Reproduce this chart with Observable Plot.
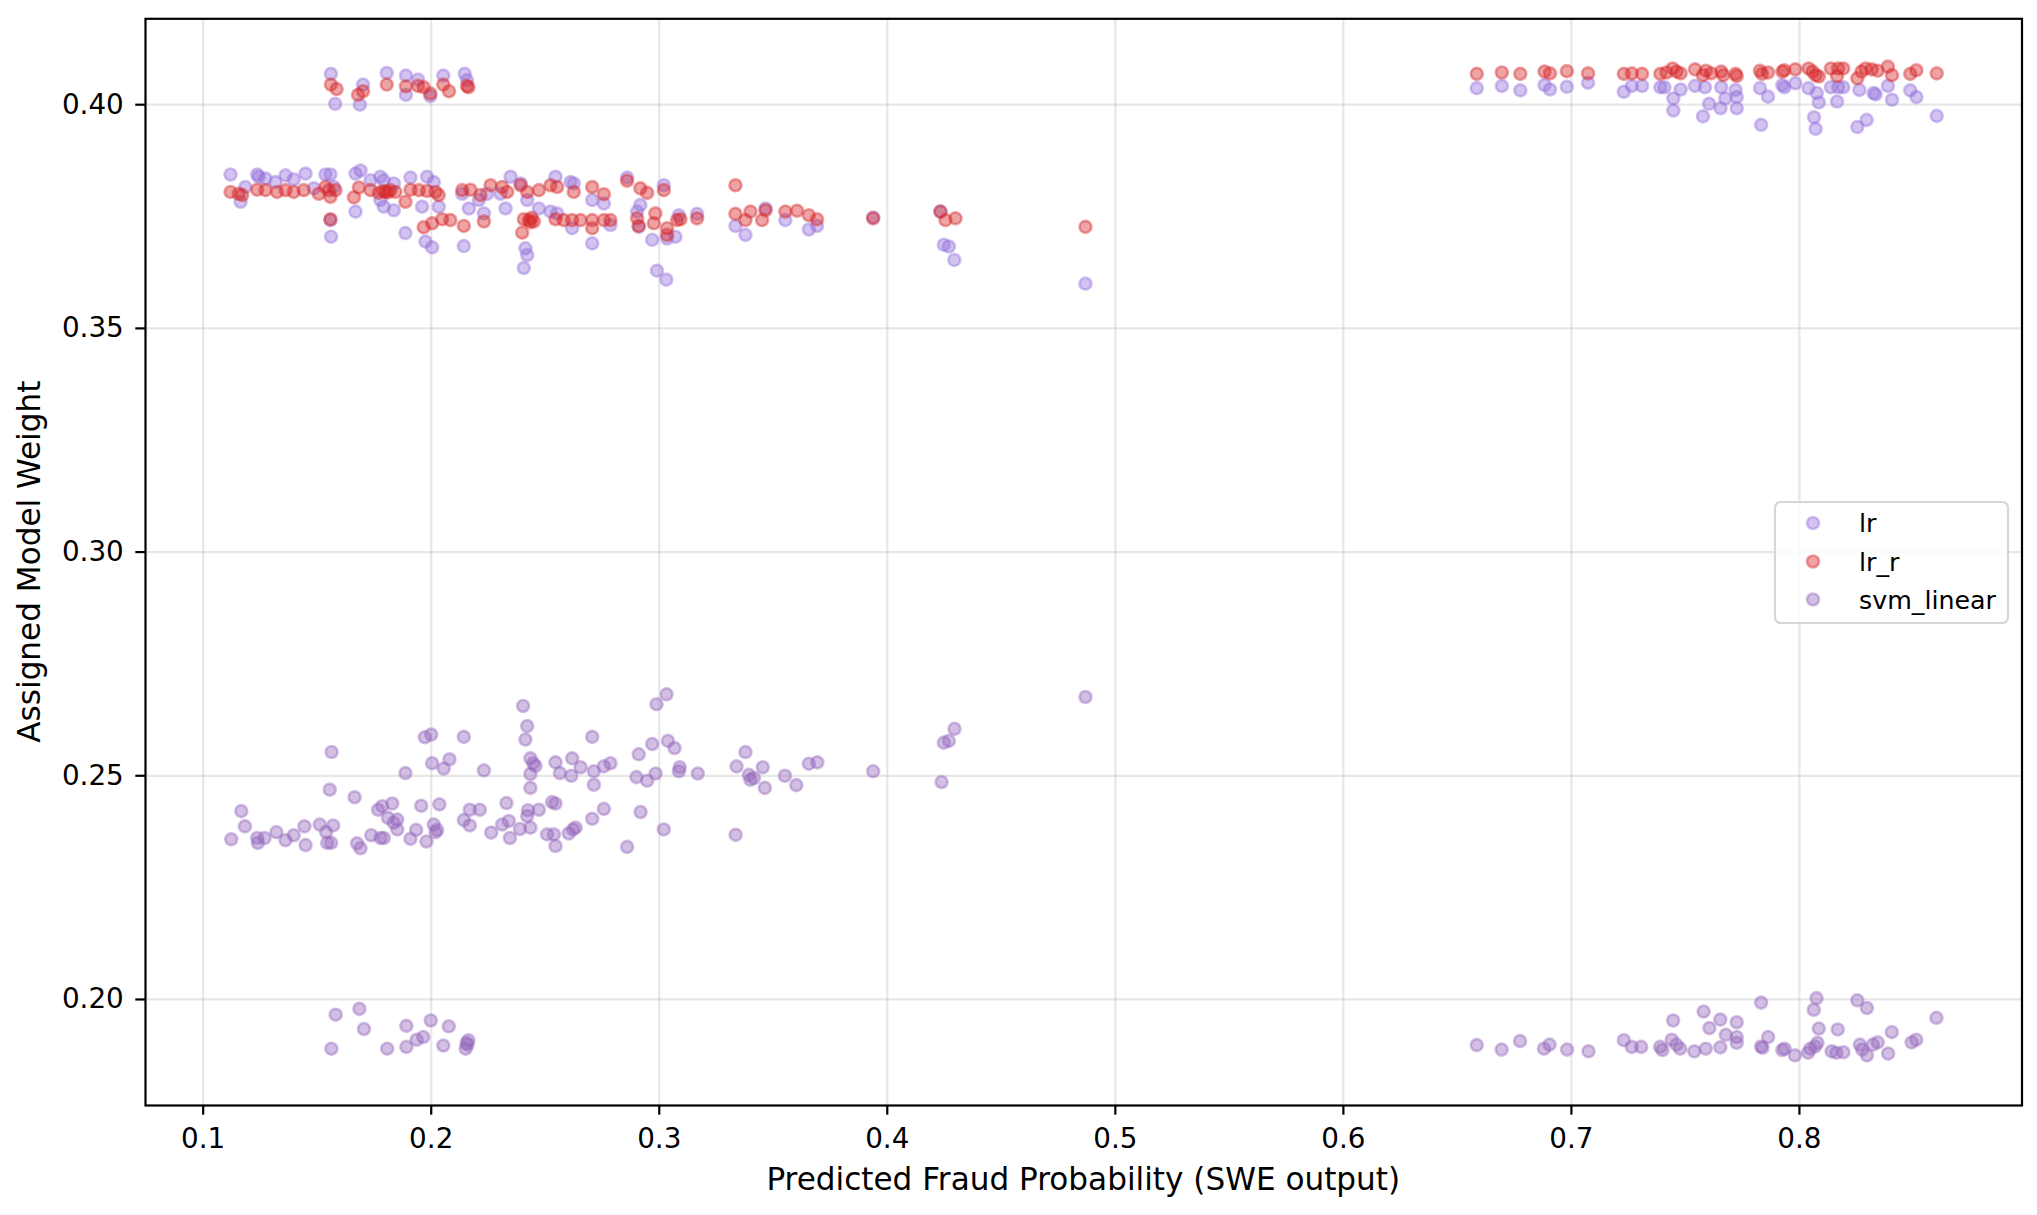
<!DOCTYPE html>
<html>
<head>
<meta charset="utf-8">
<script src="https://cdn.jsdelivr.net/npm/d3@7"></script>
<script src="https://cdn.jsdelivr.net/npm/@observablehq/plot@0.6"></script>
<style>
  html, body { margin: 0; padding: 0; background: white; overflow: hidden; }
  #chart { width: 2037px; height: 1215px; }
</style>
</head>
<body>
<div id="chart"></div>
<script>
// ---------- data ----------
const seriesNames = ["lr", "lr_r", "svm_linear"];
const seriesColors = ["#9370db", "#d62728", "#9467bd"];
const xTicks = [0.1, 0.2, 0.3, 0.4, 0.5, 0.6, 0.7, 0.8];
const yTicks = [0.20, 0.25, 0.30, 0.35, 0.40];
const xLabel = "Predicted Fraud Probability (SWE output)";
const yLabel = "Assigned Model Weight";

const lrPoints = [
  [.1120,.3844],[.1164,.3783],[.1185,.3816],[.1237,.3844],[.1244,.3839],[.1273,.3835],[.1317,.3827],[.1361,.3842],
  [.1397,.3833],[.1449,.3846],[.1485,.3813],[.1536,.3844],[.1558,.3844],[.1573,.3816],[.1558,.3742],[.1561,.3705],
  [.1668,.3846],[.1690,.3853],[.1668,.3761],[.1734,.3831],[.1777,.3839],[.1792,.3831],[.1777,.3787],[.1792,.3772],
  [.1836,.3764],[.1836,.3824],[.1909,.3837],[.1982,.3839],[.2011,.3827],[.1960,.3772],[.1887,.3713],[.1975,.3694],
  [.2004,.3681],[.2033,.3772],[.2136,.3801],[.2165,.3768],[.2143,.3684],[.2209,.3787],[.2231,.3757],[.2245,.3801],
  [.2304,.3801],[.2326,.3768],[.2348,.3839],[.2392,.3824],[.2421,.3787],[.2413,.3679],[.2421,.3664],[.2406,.3635],
  [.2472,.3768],[.2523,.3761],[.2545,.3839],[.2552,.3757],[.2611,.3827],[.2625,.3824],[.2618,.3724],[.2706,.3787],
  [.2706,.3690],
  [.2859,.3837],[.2757,.3779],[.2786,.3731],[.2917,.3776],[.2903,.3761],[.2910,.3727],[.2969,.3698],[.2990,.3629],
  [.3031,.3609],[.3020,.3820],[.3034,.3701],[.3071,.3705],[.3086,.3753],[.3166,.3756],[.3334,.3729],[.3378,.3709],
  [.3466,.3768],[.3553,.3742],[.3656,.3721],[.3692,.3729],[.3938,.3748],[.4233,.3761],[.4248,.3687],[.4270,.3683],
  [.4294,.3653],[.4869,.3600],
  [.1560,.4069],[.1579,.4002],[.1687,.4000],[.1701,.4045],[.1805,.4071],[.1889,.4065],[.1889,.4022],[.1942,.4056],
  [.1996,.4019],[.2053,.4065],[.2147,.4069],[.2157,.4055],
  [.6585,.4037],[.6695,.4042],[.6776,.4032],[.6882,.4044],[.6906,.4034],[.6980,.4040],[.7073,.4049],[.7230,.4029],
  [.7265,.4042],[.7310,.4042],[.7390,.4039],[.7408,.4039],[.7447,.4014],[.7447,.3987],[.7479,.4034],[.7542,.4042],
  [.7577,.3974],[.7586,.4039],[.7604,.4002],[.7657,.4039],[.7654,.3992],[.7675,.4014],[.7720,.4033],[.7725,.4017],
  [.7725,.3992],[.7827,.4037],[.7832,.3955],[.7862,.4018],[.7925,.4044],[.7934,.4039],[.7982,.4048],[.8040,.4037],
  [.8064,.3972],[.8071,.3946],[.8076,.4026],[.8085,.4005],[.8138,.4039],[.8165,.4007],[.8170,.4039],[.8192,.4039],
  [.8254,.3950],[.8263,.4033],[.8295,.3966],[.8325,.4026],[.8334,.4023],[.8388,.4042],[.8406,.4011],[.8486,.4032],
  [.8513,.4017],[.8602,.3975]
];

const lrRPoints = [
  [.1120,.3805],[.1156,.3801],[.1171,.3798],[.1237,.3810],[.1273,.3809],[.1324,.3805],[.1361,.3809],[.1397,.3805],
  [.1441,.3809],[.1507,.3801],[.1536,.3816],[.1551,.3809],[.1558,.3794],[.1580,.3809],[.1558,.3744],[.1661,.3793],
  [.1683,.3815],[.1734,.3809],[.1770,.3803],[.1790,.3807],[.1799,.3805],[.1810,.3804],[.1821,.3809],[.1843,.3805],
  [.1887,.3783],[.1909,.3810],[.1946,.3809],[.1982,.3807],[.2019,.3805],[.2033,.3798],[.1967,.3726],[.2004,.3735],
  [.2048,.3744],[.2084,.3742],[.2143,.3729],[.2136,.3809],[.2172,.3810],[.2216,.3798],[.2231,.3739],[.2260,.3820],
  [.2311,.3816],[.2333,.3805],[.2392,.3820],[.2406,.3744],[.2399,.3714],[.2428,.3742],[.2435,.3737],[.2440,.3747],
  [.2450,.3739],[.2421,.3805],[.2472,.3809],[.2523,.3820],[.2552,.3816],[.2545,.3744],[.2581,.3742],[.2618,.3742],
  [.2625,.3805],[.2655,.3742],[.2706,.3816],[.2706,.3742],[.2706,.3724],[.2757,.3742],
  [.2859,.3830],[.2757,.3800],[.2786,.3742],[.2917,.3813],[.2947,.3803],[.2903,.3746],[.2910,.3729],[.2983,.3757],
  [.2976,.3735],[.3020,.3809],[.3034,.3724],[.3034,.3709],[.3078,.3742],[.3093,.3744],[.3166,.3746],[.3334,.3820],
  [.3334,.3756],[.3378,.3742],[.3400,.3761],[.3451,.3742],[.3466,.3764],[.3553,.3761],[.3604,.3763],[.3656,.3753],
  [.3692,.3744],[.3938,.3746],[.4233,.3761],[.4255,.3742],[.4299,.3746],[.4869,.3727],
  [.1560,.4045],[.1585,.4035],[.1679,.4022],[.1701,.4030],[.1805,.4045],[.1889,.4041],[.1942,.4042],[.1967,.4039],
  [.1996,.4025],[.2053,.4045],[.2078,.4030],[.2157,.4042],[.2163,.4039],
  [.6585,.4069],[.6695,.4072],[.6776,.4069],[.6882,.4074],[.6906,.4070],[.6980,.4075],[.7073,.4070],[.7230,.4069],
  [.7265,.4070],[.7310,.4069],[.7390,.4069],[.7417,.4072],[.7444,.4081],[.7461,.4074],[.7479,.4070],[.7542,.4079],
  [.7577,.4066],[.7590,.4076],[.7613,.4070],[.7657,.4074],[.7666,.4066],[.7720,.4069],[.7725,.4064],[.7827,.4076],
  [.7836,.4069],[.7862,.4072],[.7925,.4074],[.7934,.4077],[.7982,.4079],[.8040,.4081],[.8058,.4074],[.8071,.4066],
  [.8085,.4063],[.8138,.4081],[.8170,.4081],[.8192,.4081],[.8165,.4064],[.8254,.4059],[.8272,.4074],[.8290,.4081],
  [.8317,.4079],[.8343,.4076],[.8388,.4085],[.8406,.4066],[.8486,.4069],[.8513,.4077],[.8602,.4070]
];

const svmPoints = [
  [.1123,.2358],[.1167,.2421],[.1183,.2387],[.1237,.2361],[.1240,.2350],[.1269,.2361],[.1321,.2374],[.1361,.2356],
  [.1397,.2367],[.1444,.2387],[.1449,.2345],[.1511,.2391],[.1539,.2374],[.1544,.2350],[.1561,.2350],[.1570,.2389],
  [.1563,.2553],[.1555,.2469],[.1664,.2452],[.1675,.2349],[.1690,.2338],[.1737,.2367],[.1767,.2424],[.1785,.2432],
  [.1778,.2361],[.1792,.2361],[.1810,.2406],[.1829,.2438],[.1836,.2395],[.1851,.2402],[.1851,.2380],[.1887,.2506],
  [.1909,.2359],[.1934,.2379],[.1956,.2433],[.1972,.2586],[.2000,.2592],[.2004,.2528],[.1979,.2353],[.2011,.2391],
  [.2019,.2374],[.2026,.2379],[.2036,.2436],[.2055,.2516],[.2080,.2537],[.2143,.2587],[.2143,.2401],[.2169,.2389],
  [.2169,.2424],[.2213,.2424],[.2231,.2512],[.2263,.2373],[.2311,.2391],[.2330,.2439],[.2340,.2399],[.2345,.2361],
  [.2389,.2381],[.2403,.2656],[.2421,.2611],[.2413,.2581],[.2424,.2423],[.2421,.2410],[.2435,.2384],[.2435,.2539],
  [.2447,.2528],[.2457,.2522],[.2435,.2504],[.2435,.2473],[.2472,.2424],[.2508,.2369],[.2530,.2441],[.2545,.2438],
  [.2538,.2369],[.2545,.2343],[.2545,.2530],[.2564,.2506],[.2603,.2371],[.2618,.2539],[.2614,.2500],[.2622,.2380],
  [.2633,.2384],[.2655,.2519],[.2706,.2587],[.2713,.2510],[.2706,.2404],[.2713,.2480],[.2757,.2426],[.2757,.2521],
  [.2786,.2528],[.2859,.2341],[.2900,.2497],[.2910,.2548],[.2918,.2419],[.2947,.2489],
  [.3032,.2682],[.2988,.2660],[.2969,.2571],[.3038,.2578],[.3067,.2562],[.2984,.2505],[.3090,.2519],[.3086,.2510],
  [.3169,.2505],[.3020,.2380],[.3335,.2368],[.3339,.2521],[.3378,.2553],[.3393,.2502],[.3400,.2491],[.3415,.2495],
  [.3454,.2519],[.3463,.2473],[.3551,.2500],[.3601,.2479],[.3656,.2527],[.3693,.2530],[.3938,.2510],[.4238,.2486],
  [.4248,.2574],[.4270,.2578],[.4295,.2605],[.4869,.2676],
  [.1581,.1966],[.1685,.1979],[.1705,.1934],[.1562,.1890],[.1807,.1890],[.1891,.1941],[.1891,.1894],[.1936,.1910],
  [.1965,.1916],[.1998,.1953],[.2053,.1897],[.2077,.1940],[.2151,.1890],[.2159,.1899],[.2163,.1909],[.2155,.1903],
  [.6585,.1898],[.6694,.1888],[.6775,.1907],[.6880,.1890],[.6904,.1899],[.6981,.1888],[.7075,.1884],[.7230,.1909],
  [.7265,.1894],[.7306,.1894],[.7389,.1894],[.7399,.1887],[.7446,.1953],[.7440,.1910],[.7461,.1899],[.7477,.1890],
  [.7539,.1884],[.7580,.1973],[.7589,.1890],[.7605,.1936],[.7653,.1955],[.7653,.1893],[.7677,.1921],[.7725,.1949],
  [.7725,.1916],[.7725,.1903],[.7832,.1993],[.7832,.1895],[.7838,.1892],[.7863,.1916],[.7925,.1887],[.7935,.1890],
  [.7980,.1875],[.8038,.1881],[.8048,.1890],[.8075,.2003],[.8063,.1977],[.8085,.1935],[.8079,.1903],[.8069,.1895],
  [.8141,.1884],[.8162,.1881],[.8168,.1933],[.8193,.1882],[.8254,.1998],[.8265,.1899],[.8275,.1888],[.8296,.1981],
  [.8296,.1875],[.8322,.1899],[.8343,.1904],[.8389,.1879],[.8405,.1927],[.8492,.1904],[.8512,.1910],[.8601,.1959]
];

// ---------- chart ----------
const FONT = "DejaVu Sans, Verdana, sans-serif";
const FS_TICK = 27.8;
const FS_LABEL = 31.1;
const FS_LEGEND = 25.3;
const seriesPoints = [lrPoints, lrRPoints, svmPoints];
const data = seriesPoints.flatMap((pts, i) => pts.map(([x, y]) => ({x, y, model: seriesNames[i]})));

const dotStyle = {r: 6.0, strokeWidth: 2.6, fillOpacity: 0.42, strokeOpacity: 0.42};

const svg = Plot.plot({
  width: 2037,
  height: 1215,
  marginLeft: 145,
  marginRight: 15.5,
  marginTop: 18.3,
  marginBottom: 110,
  style: {fontFamily: FONT, fontSize: FS_TICK + "px", background: "white", color: "black", overflow: "visible"},
  x: {domain: [0.0747, 0.8976]},
  y: {domain: [0.1763, 0.4192]},
  color: {domain: seriesNames, range: seriesColors},
  marks: [
    Plot.gridX(xTicks, {stroke: "#b0b0b0", strokeOpacity: 0.3, strokeWidth: 2.2}),
    Plot.gridY(yTicks, {stroke: "#b0b0b0", strokeOpacity: 0.3, strokeWidth: 2.2}),
    ...seriesNames.map(name =>
      Plot.dot(data.filter(d => d.model === name), {x: "x", y: "y", fill: "model", stroke: "model", ...dotStyle})
    ),
    Plot.axisX(xTicks, {anchor: "bottom", tickSize: 9.7, tickPadding: 13, strokeWidth: 2.2,
      tickFormat: d3.format(".1f"), fontSize: FS_TICK, label: null}),
    Plot.axisY(yTicks, {anchor: "left", tickSize: 9.7, tickPadding: 12, strokeWidth: 2.2,
      tickFormat: d3.format(".2f"), fontSize: FS_TICK, label: null}),
    Plot.frame({stroke: "black", strokeWidth: 2.2})
  ]
});

const s = d3.select(svg);
// axis labels
s.append("text")
  .attr("x", (145 + 2021.5) / 2).attr("y", 1190)
  .attr("text-anchor", "middle").attr("font-family", FONT).attr("font-size", FS_LABEL).attr("fill", "black")
  .text(xLabel);
s.append("text")
  .attr("transform", `translate(40,${(18.3 + 1105) / 2}) rotate(-90)`)
  .attr("text-anchor", "middle").attr("font-family", FONT).attr("font-size", FS_LABEL).attr("fill", "black")
  .text(yLabel);

// legend
const lg = s.append("g").attr("text-anchor", "start");
lg.append("rect").attr("x", 1775).attr("y", 502).attr("width", 233).attr("height", 121).attr("rx", 5.5)
  .attr("fill", "white").attr("fill-opacity", 0.8).attr("stroke", "#d6d6d6").attr("stroke-width", 2.2);
const rowY = [523, 561.5, 599.5];
seriesNames.forEach((name, i) => {
  lg.append("circle").attr("cx", 1813).attr("cy", rowY[i]).attr("r", dotStyle.r)
    .attr("fill", seriesColors[i]).attr("stroke", seriesColors[i])
    .attr("fill-opacity", dotStyle.fillOpacity).attr("stroke-opacity", dotStyle.strokeOpacity)
    .attr("stroke-width", dotStyle.strokeWidth);
  lg.append("text").attr("x", 1859).attr("y", rowY[i] + 9.2).attr("text-anchor", "start")
    .attr("font-family", FONT).attr("font-size", FS_LEGEND).attr("fill", "black").text(name);
});

document.getElementById("chart").appendChild(svg);
</script>
</body>
</html>
